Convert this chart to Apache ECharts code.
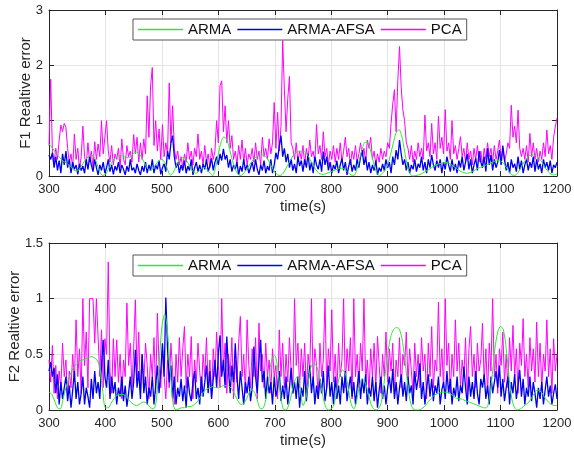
<!DOCTYPE html>
<html>
<head>
<meta charset="utf-8">
<script src="https://cdn.jsdelivr.net/npm/echarts@6/dist/echarts.min.js"></script>
<style>
html,body{margin:0;padding:0;background:#fff;}
#chart{width:574px;height:457px;}
</style>
</head>
<body>
<div id="chart"></div>
<script>
// ---- data (time axis in seconds) ----
const tStart = 300;
const noisyStep = 3;   // PCA / ARMA-AFSA sample spacing (s)
const smoothStep = 5;  // ARMA sample spacing (s)
const seriesNames = ['ARMA', 'ARMA-AFSA', 'PCA'];
const xTicks = [300, 400, 500, 600, 700, 800, 900, 1000, 1100, 1200];
const yTicksTop = [0, 1, 2, 3];
const yTicksBottom = [0, 0.5, 1, 1.5];

// F1 relative error
const f1_pca = [
0.55,1.75,0.45,0.25,0.5,0.3,0.65,0.92,0.8,0.95,
0.88,0.5,0.25,0.4,0.15,0.76,0.3,0.5,0.12,0.35,
0.9,0.35,0.2,0.6,0.25,0.45,0.15,0.62,0.3,0.58,
0.35,1.0,0.4,0.7,1.0,0.45,0.25,0.55,0.2,0.4,
0.3,0.5,0.15,0.67,0.3,0.2,0.55,0.35,0.45,0.25,
0.75,0.4,0.7,0.25,0.6,0.3,0.67,0.4,1.45,0.7,
1.63,1.96,0.55,1.0,0.45,0.85,0.3,0.93,0.35,0.6,
0.4,1.68,0.6,1.27,0.5,0.3,0.45,0.2,0.35,0.15,
0.4,0.25,0.6,0.3,0.45,0.2,0.5,0.35,0.76,0.3,
0.45,0.2,0.55,0.25,0.4,0.15,0.5,0.3,0.45,1.0,
0.6,1.63,1.72,0.8,1.27,0.6,1.0,0.5,0.73,0.3,
0.45,0.2,0.55,0.3,0.65,0.25,0.5,0.2,0.4,0.3,
0.5,0.25,0.6,0.3,0.45,0.2,0.7,0.35,0.5,0.3,
0.67,0.4,0.6,1.33,0.5,1.15,0.45,0.9,2.45,1.57,
0.8,1.4,1.8,0.6,0.5,0.3,0.6,0.25,0.45,0.3,
0.55,0.2,0.5,0.3,0.65,0.35,0.45,0.25,0.93,0.4,
0.55,0.3,0.8,0.35,0.5,0.2,0.45,0.3,0.55,0.25,
0.5,0.3,0.6,0.25,0.45,0.7,0.35,0.5,0.2,0.45,
0.3,0.55,0.25,0.4,0.6,0.35,0.5,0.25,0.65,0.5,
0.7,0.3,0.45,0.2,0.4,0.25,0.5,0.3,0.45,0.35,
0.6,0.5,0.95,1.3,1.56,0.8,1.73,2.34,1.6,1.19,
1.0,0.6,0.5,0.3,0.55,0.25,0.45,0.3,0.6,0.35,
0.5,0.3,1.1,0.45,0.6,0.35,0.95,0.4,0.6,0.3,
1.08,0.5,0.7,0.4,1.2,0.45,0.6,0.3,1.0,0.4,
0.55,0.3,0.5,0.71,0.35,0.5,0.25,0.6,0.3,0.45,
0.2,0.5,0.3,0.55,0.25,0.45,0.2,0.5,0.3,0.6,
0.35,0.5,0.25,0.55,0.3,0.45,0.65,0.3,0.5,0.25,
0.4,0.6,0.5,1.28,0.7,0.9,0.6,1.19,0.5,0.35,
0.5,0.3,0.55,0.25,0.77,0.35,0.6,0.3,0.5,0.25,
0.45,0.3,0.6,0.35,0.83,0.4,0.55,0.3,0.7,0.89,
1.05];
const f1_afsa = [
0.38,0.3,0.42,0.15,0.35,0.1,0.28,0.05,0.4,0.2,
0.45,0.15,0.3,0.05,0.25,0.12,0.2,0.03,0.22,0.1,
0.18,0.05,0.3,0.12,0.35,0.2,0.08,0.3,0.15,0.02,
0.2,0.1,0.25,0.05,0.15,0.3,0.08,0.2,0.03,0.18,
0.1,0.25,0.05,0.2,0.12,0.02,0.18,0.08,0.3,0.1,
0.15,0.05,0.22,0.1,0.02,0.18,0.08,0.25,0.05,0.2,
0.1,0.3,0.05,0.2,0.12,0.28,0.03,0.15,0.22,0.08,
0.45,0.3,0.6,0.73,0.35,0.15,0.25,0.05,0.2,0.1,
0.28,0.05,0.18,0.1,0.3,0.02,0.15,0.25,0.08,0.2,
0.05,0.22,0.12,0.3,0.08,0.18,0.32,0.1,0.25,0.35,
0.2,0.4,0.28,0.49,0.3,0.38,0.15,0.3,0.08,0.2,
0.12,0.25,0.02,0.18,0.08,0.3,0.1,0.2,0.05,0.15,
0.25,0.08,0.3,0.12,0.02,0.2,0.1,0.28,0.05,0.18,
0.1,0.3,0.05,0.2,0.42,0.3,0.55,0.73,0.35,0.5,
0.25,0.4,0.15,0.3,0.1,0.22,0.05,0.35,0.18,0.28,
0.08,0.3,0.15,0.4,0.1,0.25,0.05,0.35,0.2,0.12,
0.3,0.08,0.44,0.2,0.35,0.1,0.25,0.05,0.2,0.12,
0.28,0.05,0.2,0.32,0.1,0.25,0.02,0.18,0.3,0.08,
0.2,0.1,0.3,0.15,0.35,0.47,0.2,0.35,0.1,0.25,
0.05,0.2,0.1,0.28,0.02,0.15,0.08,0.22,0.1,0.3,
0.15,0.25,0.05,0.35,0.2,0.47,0.3,0.65,0.4,0.2,
0.3,0.1,0.25,0.05,0.2,0.12,0.3,0.08,0.22,0.15,
0.35,0.1,0.25,0.05,0.3,0.15,0.38,0.2,0.1,0.28,
0.15,0.3,0.05,0.25,0.12,0.35,0.2,0.08,0.3,0.1,
0.22,0.05,0.28,0.15,0.35,0.1,0.25,0.4,0.12,0.3,
0.05,0.2,0.32,0.1,0.45,0.25,0.15,0.35,0.08,0.5,
0.2,0.38,0.1,0.3,0.15,0.25,0.47,0.2,0.55,0.3,
0.1,0.25,0.05,0.3,0.15,0.22,0.08,0.35,0.12,0.28,
0.05,0.2,0.3,0.1,0.25,0.15,0.35,0.08,0.3,0.12,
0.22,0.05,0.3,0.15,0.25,0.1,0.28,0.05,0.2,0.15,
0.25];
const f1_arma = [
0.58,0.52,0.45,0.38,0.32,0.27,0.24,0.2,0.15,0.1,
0.09,0.14,0.22,0.3,0.35,0.37,0.34,0.22,0.08,0.01,
0.03,0.12,0.22,0.3,0.35,0.37,0.36,0.34,0.33,0.36,
0.41,0.43,0.4,0.32,0.22,0.13,0.1,0.14,0.22,0.28,
0.3,0.25,0.12,0.02,0.06,0.18,0.28,0.33,0.33,0.26,
0.16,0.08,0.05,0.08,0.13,0.15,0.12,0.05,0.01,0.15,
0.4,0.62,0.71,0.65,0.48,0.28,0.12,0.03,0.01,0.05,
0.12,0.2,0.27,0.33,0.36,0.38,0.38,0.34,0.26,0.16,
0.07,0.02,0.01,0.05,0.14,0.24,0.33,0.4,0.44,0.45,
0.45,0.42,0.35,0.25,0.16,0.08,0.04,0.03,0.04,0.06,
0.08,0.1,0.12,0.14,0.14,0.11,0.06,0.02,0.01,0.1,
0.3,0.5,0.61,0.6,0.45,0.24,0.07,0.01,0.04,0.1,
0.2,0.38,0.6,0.78,0.84,0.72,0.45,0.18,0.03,0.0,
0.01,0.02,0.04,0.07,0.1,0.13,0.17,0.2,0.22,0.23,
0.24,0.24,0.22,0.19,0.15,0.11,0.08,0.06,0.05,0.06,
0.08,0.11,0.14,0.16,0.18,0.2,0.22,0.25,0.27,0.28,
0.27,0.23,0.16,0.08,0.02,0.01,0.05,0.13,0.22,0.3,
0.36,0.38,0.38,0.35,0.3,0.22,0.14,0.07,0.03,0.02,
0.04];

// F2 relative error
const f2_pca = [
0.45,0.25,0.58,0.15,0.4,0.1,0.35,0.2,0.6,0.3,
0.45,0.1,0.35,0.2,0.5,0.25,0.81,0.3,0.55,0.15,
1.0,0.4,0.7,0.2,1.0,1.0,1.0,0.6,1.0,1.0,
0.3,0.72,0.2,0.64,0.5,1.33,0.35,0.15,0.64,0.3,
0.63,0.25,0.5,0.1,0.45,0.3,0.96,0.4,0.6,0.2,
0.55,0.99,0.3,0.7,0.15,0.5,0.25,0.6,0.4,0.1,
0.5,0.3,0.65,0.15,0.87,0.4,0.2,0.55,0.3,0.1,
0.45,0.2,0.6,0.35,0.05,0.5,0.25,0.65,0.3,0.55,
0.75,0.2,0.5,0.3,0.66,0.1,0.45,0.25,0.6,0.35,
0.15,0.5,0.3,0.65,0.2,0.45,0.1,0.55,0.3,0.7,
0.4,0.2,1.0,0.35,0.6,0.15,0.5,0.3,0.65,0.1,
0.45,0.25,0.6,0.84,0.3,0.5,0.15,0.81,0.4,0.2,
0.55,0.3,0.65,0.1,0.78,0.35,0.5,0.2,0.6,0.3,
0.45,0.15,0.55,0.3,0.4,0.1,0.72,0.3,0.6,0.2,
0.5,0.25,0.65,0.35,0.15,1.0,0.4,0.6,0.2,0.55,
0.3,0.6,0.15,0.5,0.35,1.0,0.25,0.55,0.4,0.1,
0.6,0.3,0.45,1.0,0.2,0.55,0.35,0.9,0.25,0.5,
0.15,0.6,0.3,0.45,1.0,0.2,0.55,0.35,0.65,0.1,
1.0,0.3,0.5,0.2,0.6,0.35,1.0,0.25,0.45,0.15,
0.55,0.3,0.6,0.2,0.66,0.4,0.15,0.5,0.3,0.7,
0.25,0.55,0.35,0.6,0.15,0.45,0.3,0.65,0.2,0.5,
0.4,0.7,0.25,0.55,0.35,0.15,0.6,0.3,0.5,0.2,
0.65,0.35,0.5,0.1,0.6,0.3,0.75,0.2,0.45,0.35,
0.97,0.3,0.55,0.2,1.0,0.4,0.6,0.15,0.5,0.3,
0.81,0.35,0.6,0.2,0.45,0.3,0.65,0.1,0.55,0.75,
0.3,0.5,0.2,0.6,0.35,0.45,0.78,0.25,0.55,0.15,
0.6,0.35,1.0,0.3,0.5,0.15,0.55,0.4,0.7,0.25,
0.5,0.2,0.65,0.35,0.76,0.3,0.55,0.15,0.6,0.4,
0.82,0.3,0.5,0.2,0.65,0.35,0.55,0.25,0.79,0.3,
0.6,0.2,0.5,0.35,0.81,0.3,0.55,0.15,0.64,0.35,
0.5];
const f2_afsa = [
0.35,0.43,0.3,0.38,0.15,0.32,0.05,0.25,0.1,0.2,
0.3,0.08,0.22,0.02,0.18,0.35,0.1,0.25,0.05,0.15,
0.3,0.05,0.2,0.12,0.02,0.28,0.1,0.35,0.15,0.25,
0.1,0.4,0.63,0.3,0.2,0.45,0.1,0.3,0.15,0.25,
0.05,0.2,0.12,0.3,0.08,0.22,0.03,0.15,0.3,0.1,
0.25,0.54,0.2,0.35,0.1,0.5,0.15,0.3,0.05,0.2,
0.12,0.3,0.05,0.22,0.4,0.15,0.35,0.6,0.3,1.01,
0.55,0.25,0.4,0.1,0.3,0.05,0.2,0.12,0.28,0.08,
0.22,0.02,0.3,0.15,0.08,0.25,0.35,0.1,0.2,0.05,
0.3,0.12,0.25,0.4,0.15,0.35,0.1,0.28,0.45,0.2,
0.5,0.67,0.3,0.45,0.2,0.66,0.35,0.15,0.4,0.25,
0.6,0.3,0.1,0.35,0.2,0.05,0.25,0.15,0.3,0.08,
0.2,0.57,0.3,0.15,0.45,0.63,0.25,0.35,0.1,0.3,
0.15,0.25,0.05,0.3,0.12,0.2,0.35,0.08,0.22,0.1,
0.3,0.05,0.2,0.38,0.15,0.25,0.1,0.3,0.02,0.2,
0.12,0.35,0.08,0.25,0.4,0.15,0.3,0.05,0.22,0.1,
0.28,0.15,0.35,0.08,0.2,0.4,0.12,0.25,0.05,0.3,
0.1,0.22,0.05,0.3,0.15,0.35,0.08,0.2,0.3,0.12,
0.25,0.05,0.2,0.35,0.1,0.28,0.15,0.32,0.05,0.2,
0.12,0.3,0.08,0.25,0.02,0.18,0.3,0.1,0.22,0.05,
0.2,0.3,0.15,0.37,0.1,0.25,0.05,0.2,0.32,0.12,
0.25,0.08,0.3,0.15,0.22,0.05,0.35,0.18,0.28,0.42,
0.1,0.25,0.05,0.2,0.32,0.12,0.28,0.08,0.22,0.15,
0.3,0.05,0.18,0.25,0.1,0.35,0.15,0.28,0.05,0.2,
0.12,0.3,0.08,0.22,0.15,0.39,0.2,0.05,0.3,0.12,
0.25,0.1,0.35,0.15,0.05,0.28,0.2,0.32,0.1,0.22,
0.05,0.3,0.15,0.25,0.35,0.2,0.4,0.12,0.28,0.08,
0.2,0.3,0.05,0.25,0.15,0.32,0.1,0.22,0.36,0.12,
0.28,0.05,0.2,0.12,0.3,0.08,0.25,0.15,0.02,0.2,
0.1,0.25,0.05,0.18,0.3,0.12,0.22,0.05,0.15,0.23,
0.1];
const f2_arma = [
0.16,0.14,0.08,0.02,0.01,0.1,0.2,0.28,0.35,0.39,
0.42,0.44,0.45,0.46,0.47,0.48,0.47,0.45,0.38,0.18,
0.02,0.02,0.06,0.1,0.13,0.14,0.14,0.13,0.1,0.07,
0.05,0.04,0.05,0.07,0.07,0.05,0.02,0.01,0.08,0.4,
0.75,0.86,0.7,0.35,0.05,0.0,0.01,0.02,0.02,0.03,
0.03,0.04,0.06,0.09,0.13,0.17,0.19,0.2,0.21,0.2,
0.2,0.21,0.22,0.22,0.21,0.18,0.13,0.08,0.05,0.06,
0.1,0.16,0.18,0.15,0.07,0.01,0.02,0.12,0.3,0.46,
0.49,0.38,0.15,0.01,0.0,0.05,0.15,0.26,0.3,0.2,
0.04,0.1,0.28,0.4,0.42,0.38,0.27,0.13,0.03,0.0,
0.01,0.05,0.18,0.31,0.36,0.33,0.2,0.06,0.01,0.08,
0.22,0.28,0.25,0.16,0.06,0.01,0.0,0.02,0.1,0.3,
0.5,0.65,0.72,0.74,0.73,0.65,0.47,0.25,0.08,0.01,
0.0,0.0,0.01,0.03,0.06,0.09,0.12,0.14,0.15,0.16,
0.16,0.16,0.15,0.13,0.11,0.1,0.1,0.09,0.08,0.07,
0.06,0.05,0.04,0.03,0.02,0.02,0.1,0.3,0.55,0.7,
0.75,0.72,0.55,0.3,0.1,0.02,0.0,0.01,0.03,0.05,
0.07,0.11,0.15,0.18,0.17,0.14,0.1,0.07,0.05,0.04,
0.04];

// ---- build chart ----
function pairs(arr, step) { return arr.map((v, i) => [tStart + i * step, v]); }

const axisColor = '#262626';
const font = 'Liberation Sans, Arial, sans-serif';
const colors = { 'ARMA': '#2ee62e', 'ARMA-AFSA': '#0000f0', 'PCA': '#ff00ff' };
const widths = { 'ARMA': 1, 'ARMA-AFSA': 1.3, 'PCA': 1 };
const grids = [
  { left: 49, right: 17, top: 10, height: 166, outerBoundsMode: 'none', containLabel: false },
  { left: 49, right: 17, top: 243, height: 167, outerBoundsMode: 'none', containLabel: false }
];
const plainNum = v => String(v);
function xMain(gi) {
  return {
    type: 'value', gridIndex: gi, min: xTicks[0], max: xTicks[xTicks.length - 1],
    interval: xTicks[1] - xTicks[0], position: 'bottom',
    name: 'time(s)', nameLocation: 'middle', nameGap: 23, nameMoveOverlap: false,
    nameTextStyle: { color: axisColor, fontSize: 15, fontFamily: font },
    axisLine: { show: true, onZero: false, lineStyle: { color: axisColor, width: 1 } },
    axisTick: { show: true, inside: true, length: 5, lineStyle: { color: axisColor } },
    axisLabel: { color: axisColor, fontSize: 13, fontFamily: font, margin: 7, formatter: plainNum },
    splitLine: { show: true, lineStyle: { color: '#e3e3e3', width: 1 } }
  };
}
function xTop(gi) {
  return {
    type: 'value', gridIndex: gi, min: xTicks[0], max: xTicks[xTicks.length - 1],
    interval: xTicks[1] - xTicks[0], position: 'top',
    axisLine: { show: true, onZero: false, lineStyle: { color: axisColor, width: 1 } },
    axisTick: { show: true, inside: true, length: 5, lineStyle: { color: axisColor } },
    axisLabel: { show: false }, splitLine: { show: false }
  };
}
function yMain(gi, ticks, name, gap) {
  return {
    type: 'value', gridIndex: gi, min: ticks[0], max: ticks[ticks.length - 1],
    interval: ticks[1] - ticks[0], position: 'left',
    name: name, nameLocation: 'middle', nameGap: gap, nameRotate: 90, nameMoveOverlap: false,
    nameTextStyle: { color: axisColor, fontSize: 15, fontFamily: font },
    axisLine: { show: true, onZero: false, lineStyle: { color: axisColor, width: 1 } },
    axisTick: { show: true, inside: true, length: 5, lineStyle: { color: axisColor } },
    axisLabel: { color: axisColor, fontSize: 13, fontFamily: font, margin: 6, formatter: plainNum },
    splitLine: { show: true, lineStyle: { color: '#e3e3e3', width: 1 } }
  };
}
function yRight(gi, ticks) {
  return {
    type: 'value', gridIndex: gi, min: ticks[0], max: ticks[ticks.length - 1],
    interval: ticks[1] - ticks[0], position: 'right',
    axisLine: { show: true, onZero: false, lineStyle: { color: axisColor, width: 1 } },
    axisTick: { show: true, inside: true, length: 5, lineStyle: { color: axisColor } },
    axisLabel: { show: false }, splitLine: { show: false }
  };
}
function line(name, data, step, gi, smooth) {
  return {
    name: name, type: 'line', xAxisIndex: gi, yAxisIndex: gi,
    data: pairs(data, step), showSymbol: false, symbol: 'none', smooth: smooth,
    lineStyle: { color: colors[name], width: widths[name] },
    itemStyle: { color: colors[name] }, animation: false
  };
}
function legend(top) {
  return {
    data: seriesNames.map(n => ({
      name: n, icon: 'rect',
      itemStyle: { color: colors[n], borderWidth: 0, opacity: 1 }
    })),
    left: 133, top: top, orient: 'horizontal',
    itemWidth: 45, itemHeight: 1.5, itemGap: 6,
    padding: [3, 5, 3, 5], borderColor: '#555', borderWidth: 1, backgroundColor: '#fff',
    textStyle: { color: '#111', fontSize: 15, fontFamily: font },
    selectedMode: false
  };
}
const chart = echarts.init(document.getElementById('chart'), null, { renderer: 'canvas' });
chart.setOption({
  animation: false,
  backgroundColor: '#fff',
  grid: grids,
  legend: [legend(19), legend(255)],
  xAxis: [xMain(0), xMain(1), xTop(0), xTop(1)],
  yAxis: [yMain(0, yTicksTop, 'F1 Realtive error', 16), yMain(1, yTicksBottom, 'F2 Realtive error', 27),
          yRight(0, yTicksTop), yRight(1, yTicksBottom)],
  series: [
    line('PCA', f1_pca, noisyStep, 0, false),
    line('ARMA-AFSA', f1_afsa, noisyStep, 0, false),
    line('ARMA', f1_arma, smoothStep, 0, 0.3),
    line('PCA', f2_pca, noisyStep, 1, false),
    line('ARMA-AFSA', f2_afsa, noisyStep, 1, false),
    line('ARMA', f2_arma, smoothStep, 1, 0.3)
  ]
});
</script>
</body>
</html>
